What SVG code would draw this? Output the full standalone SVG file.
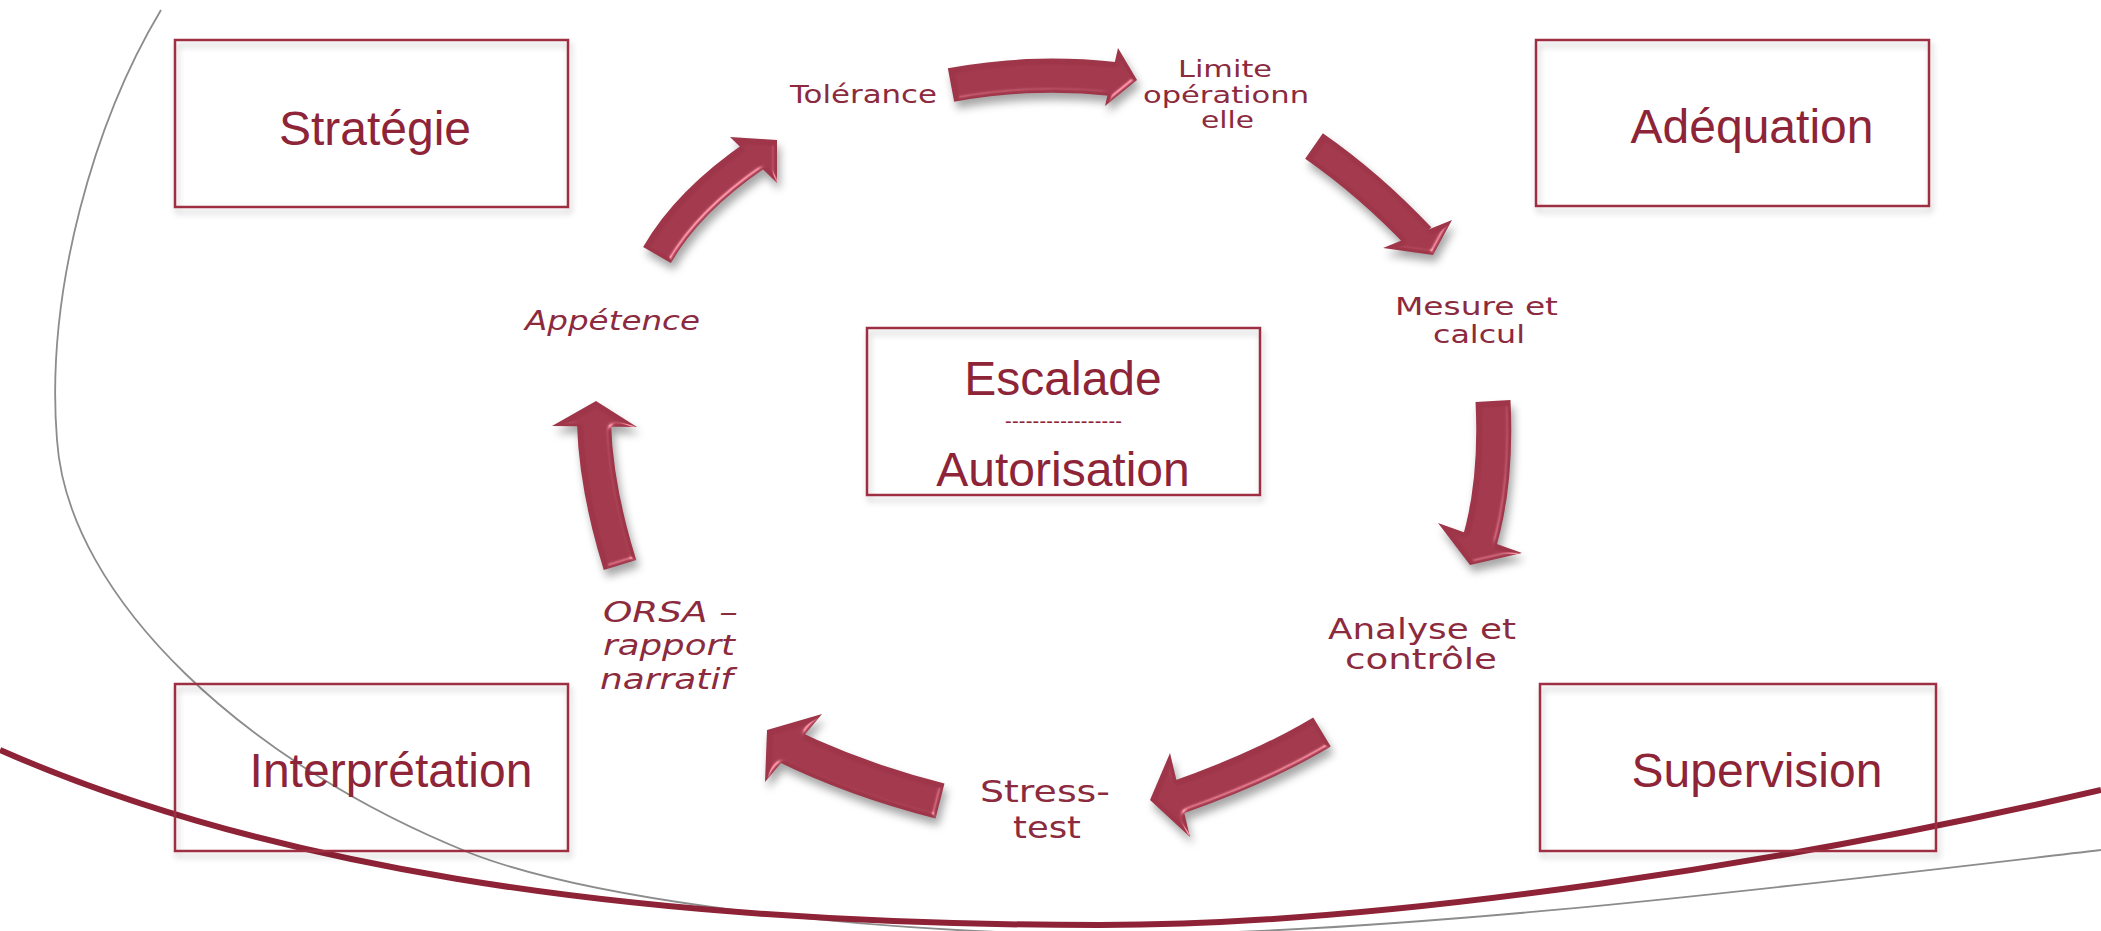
<svg xmlns="http://www.w3.org/2000/svg" width="2101" height="931" viewBox="0 0 2101 931">
<defs>
<style>
.box{fill:none;stroke:#9E2E43;stroke-width:2.5;}
.blabel{font-family:"Liberation Sans",Arial,sans-serif;font-size:48px;fill:#8E2438;text-anchor:middle;}
.step{font-family:"DejaVu Sans",Verdana,sans-serif;fill:#8C2A3E;}
.it{font-style:italic;}
.body{fill:none;stroke:#9E3549;stroke-linecap:butt;}
.head{fill:#9E3549;}
</style>
<filter id="boxsh" x="-5%" y="-10%" width="110%" height="130%">
<feOffset in="SourceAlpha" dx="2" dy="5" result="o"/>
<feGaussianBlur in="o" stdDeviation="3" result="b"/>
<feFlood flood-color="#000" flood-opacity="0.22"/>
<feComposite in2="b" operator="in" result="s"/>
<feMerge><feMergeNode in="s"/><feMergeNode in="SourceGraphic"/></feMerge>
</filter>
<filter id="bevel" x="-30%" y="-30%" width="170%" height="170%" color-interpolation-filters="sRGB">
<feGaussianBlur in="SourceAlpha" stdDeviation="2.5" result="b"/>
<feSpecularLighting in="b" surfaceScale="3" specularConstant="0.9" specularExponent="40" lighting-color="#ffffff" result="s">
<feDistantLight azimuth="45" elevation="45"/>
</feSpecularLighting>
<feComposite in="s" in2="SourceAlpha" operator="in" result="si"/>
<feComposite in="SourceGraphic" in2="si" operator="arithmetic" k1="0" k2="1" k3="0.45" k4="0" result="lit"/>
<feOffset in="SourceAlpha" dx="3" dy="7" result="o"/>
<feGaussianBlur in="o" stdDeviation="4" result="ob"/>
<feFlood flood-color="#000" flood-opacity="0.35"/>
<feComposite in2="ob" operator="in" result="sh"/>
<feMerge><feMergeNode in="sh"/><feMergeNode in="lit"/></feMerge>
</filter>
</defs>
<rect width="2101" height="931" fill="#ffffff"/>

<g id="decor">
<path d="M 161,10 C 95,120 45,290 57,440 C 68,600 250,765 470,853 C 570,892 800,930 1100,935 C 1400,935 1800,885 2101,850" fill="none" stroke="#8C8C8C" stroke-width="1.8"/>
<path d="M 0,750 C 250,860 600,925 1100,925 C 1400,925 1800,860 2101,790" fill="none" stroke="#8E2236" stroke-width="6"/>
</g>

<g id="node-strategie">
<rect class="box" x="175" y="40" width="393" height="167" filter="url(#boxsh)"/>
<text class="blabel" x="375" y="145">Stratégie</text>
</g>
<g id="node-adequation">
<rect class="box" x="1536" y="40" width="393" height="166" filter="url(#boxsh)"/>
<text class="blabel" x="1752" y="143">Adéquation</text>
</g>
<g id="node-interpretation">
<rect class="box" x="175" y="684" width="393" height="167" filter="url(#boxsh)"/>
<text class="blabel" x="391" y="787">Interprétation</text>
</g>
<g id="node-supervision">
<rect class="box" x="1540" y="684" width="396" height="167" filter="url(#boxsh)"/>
<text class="blabel" x="1757" y="787">Supervision</text>
</g>
<g id="node-escalade">
<rect class="box" x="867" y="328" width="393" height="167" filter="url(#boxsh)"/>
<text class="blabel" x="1063" y="395">Escalade</text>
<text class="blabel" x="1005" y="428" style="font-size:20px;text-anchor:start" textLength="117" lengthAdjust="spacing">-----------------</text>
<text class="blabel" x="1063" y="486">Autorisation</text>
</g>

<g id="node-tolerance">
<text class="step" x="790" y="103" font-size="24" textLength="147" lengthAdjust="spacingAndGlyphs">Tolérance</text>
</g>
<g id="node-limite">
<text class="step" x="1178" y="77" font-size="23" textLength="94" lengthAdjust="spacingAndGlyphs">Limite</text>
<text class="step" x="1143" y="103" font-size="23" textLength="166" lengthAdjust="spacingAndGlyphs">opérationn</text>
<text class="step" x="1201" y="128" font-size="23" textLength="53" lengthAdjust="spacingAndGlyphs">elle</text>
</g>
<g id="node-mesure">
<text class="step" x="1395" y="315" font-size="25" textLength="163" lengthAdjust="spacingAndGlyphs">Mesure et</text>
<text class="step" x="1433" y="343" font-size="25" textLength="92" lengthAdjust="spacingAndGlyphs">calcul</text>
</g>
<g id="node-analyse">
<text class="step" x="1328" y="639" font-size="28" textLength="188" lengthAdjust="spacingAndGlyphs">Analyse et</text>
<text class="step" x="1345" y="669" font-size="28" textLength="152" lengthAdjust="spacingAndGlyphs">contrôle</text>
</g>
<g id="node-stress">
<text class="step" x="980" y="802" font-size="31" textLength="130" lengthAdjust="spacingAndGlyphs">Stress-</text>
<text class="step" x="1013" y="838" font-size="31" textLength="68" lengthAdjust="spacingAndGlyphs">test</text>
</g>
<g id="node-orsa">
<text class="step it" x="603" y="622" font-size="28" textLength="135" lengthAdjust="spacingAndGlyphs">ORSA –</text>
<text class="step it" x="603" y="655" font-size="28" textLength="132" lengthAdjust="spacingAndGlyphs">rapport</text>
<text class="step it" x="600" y="689" font-size="28" textLength="133" lengthAdjust="spacingAndGlyphs">narratif</text>
</g>
<g id="node-appetence">
<text class="step it" x="525" y="330" font-size="26" textLength="175" lengthAdjust="spacingAndGlyphs">Appétence</text>
</g>

<g id="connectors">
<g filter="url(#bevel)">
<path class="body" stroke-width="34" d="M 951,85 Q 1030,70 1114,79"/>
<polygon class="head" points="1118,48 1137,80 1105,106"/>
</g>
<g filter="url(#bevel)">
<path class="body" stroke-width="31" d="M 1314,146 Q 1370,185 1420,238"/>
<polygon class="head" points="1452,220 1433,255 1383,248"/>
</g>
<g filter="url(#bevel)">
<path class="body" stroke-width="35" d="M 1493,401 Q 1497,480 1480,540"/>
<polygon class="head" points="1438,523 1470,565 1522,553"/>
</g>
<g filter="url(#bevel)">
<path class="body" stroke-width="34" d="M 1322,732 Q 1262,768 1176,798"/>
<polygon class="head" points="1170,753 1150,800 1190,837"/>
</g>
<g filter="url(#bevel)">
<path class="body" stroke-width="36" d="M 940,801 Q 854,779 783,744"/>
<polygon class="head" points="822,714 767,730 765,782"/>
</g>
<g filter="url(#bevel)">
<path class="body" stroke-width="34" d="M 620,565 Q 596,488 594,424"/>
<polygon class="head" points="552,426 596,401 637,427"/>
</g>
<g filter="url(#bevel)">
<path class="body" stroke-width="32" d="M 657,255 Q 688,201 757,154"/>
<polygon class="head" points="730,137 777,140 777,183"/>
</g>
</g>
</svg>
